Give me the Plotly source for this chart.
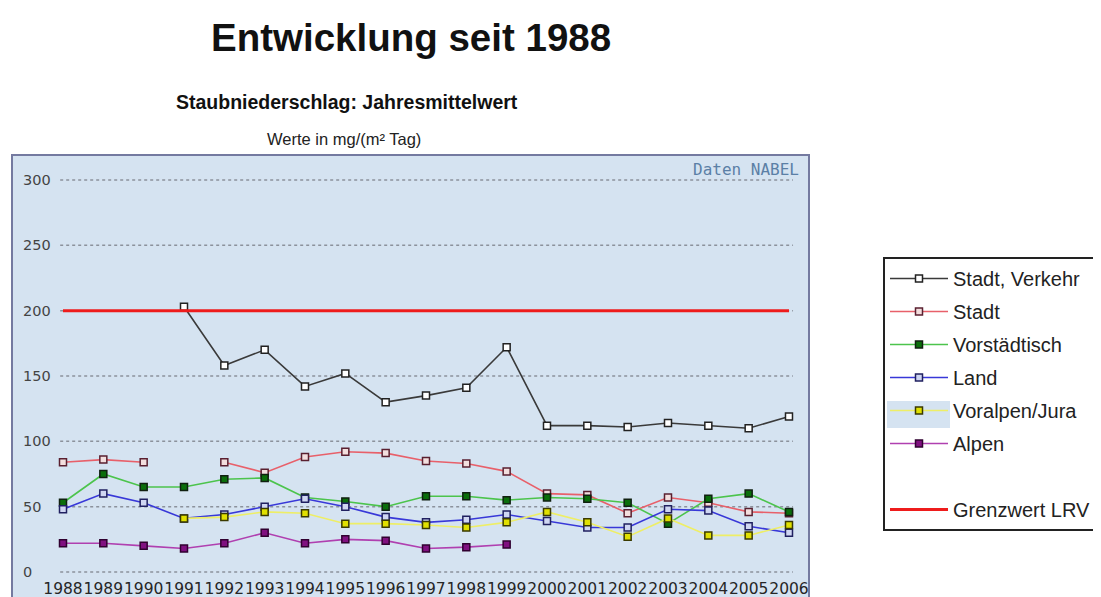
import plotly.graph_objects as go

years = list(range(1988, 2007))
year_labels = [str(y) for y in years]

stadt_verkehr = [None, None, None, 203, 158, 170, 142, 152, 130, 135, 141, 172, 112, 112, 111, 114, 112, 110, 119]
stadt = [84, 86, 84, None, 84, 76, 88, 92, 91, 85, 83, 77, 60, 59, 45, 57, 53, 46, 45]
vorstaedtisch = [53, 75, 65, 65, 71, 72, 57, 54, 50, 58, 58, 55, 57, 56, 53, 37, 56, 60, 46]
land = [48, 60, 53, 41, 44, 50, 56, 50, 42, 38, 40, 44, 39, 34, 34, 48, 47, 35, 30]
voralpen = [None, None, None, 41, 42, 46, 45, 37, 37, 36, 34, 38, 46, 38, 27, 41, 28, 28, 36]
alpen = [22, 22, 20, 18, 22, 30, 22, 25, 24, 18, 19, 21, None, None, None, None, None, None, None]
grenzwert = [200] * len(years)

y_ticks = [0, 50, 100, 150, 200, 250, 300]

series = [
    ("Stadt, Verkehr", stadt_verkehr, "#3a3a3a", "#ffffff", "#222222"),
    ("Stadt", stadt, "#e8606a", "#f3dede", "#5a2030"),
    ("Vorstädtisch", vorstaedtisch, "#4cc44c", "#0b6e0b", "#102010"),
    ("Land", land, "#3838d8", "#cfd6f2", "#202060"),
    ("Voralpen/Jura", voralpen, "#eeee66", "#e0e000", "#3a3a00"),
    ("Alpen", alpen, "#b040b0", "#801080", "#300030"),
]

fig = go.Figure()
for i, (name, vals, lc, mf, mb) in enumerate(series):
    fig.add_trace(go.Scatter(
        x=years, y=vals, name=name, mode="lines+markers", legendgroup=f"g{i}",
        line=dict(color=lc, width=1.6),
        marker=dict(symbol="square", size=7, color=mf, line=dict(color=mb, width=1.5)),
        connectgaps=False,
    ))

fig.add_trace(go.Scatter(x=[None], y=[None], name=" ", mode="lines", legendgroup="gblank",
                         line=dict(color="rgba(0,0,0,0)"), hoverinfo="skip"))
fig.add_trace(go.Scatter(x=years, y=grenzwert, name="Grenzwert LRV", mode="lines", legendgroup="glrv",
                         line=dict(color="#ee1c1c", width=3)))

# figure pixel coordinates (page body adds an 8px offset)
L, R, T, B = 4, 801, 147, 573
W, H = 1101, 597
pw, ph = R - L, B - T

def px_x(p):
    return (p - L) / pw

def px_y(p):
    return (B - p) / ph

shapes = []
shapes.append(dict(type="rect", xref="paper", yref="paper", x0=0, x1=1, y0=px_y(610), y1=1,
                   fillcolor="#d5e3f1", line=dict(color="#747aa0", width=2), layer="below"))
for v in y_ticks:
    shapes.append(dict(type="line", xref="x", yref="y", x0=1987.93, x1=2006.1, y0=v, y1=v,
                       line=dict(color="#8c929c", width=1.5, dash="dot"), layer="below"))
shapes.append(dict(type="rect", xref="paper", yref="paper", x0=px_x(879), x1=px_x(942),
                   y0=px_y(420), y1=px_y(393), fillcolor="#d5e3f1", line=dict(width=0), layer="below"))

annotations = [
    dict(text="<b>Entwicklung seit 1988</b>", xref="paper", yref="paper", x=px_x(403), y=px_y(30),
         showarrow=False, xanchor="center", yanchor="middle",
         font=dict(family="Liberation Sans, Arial", size=38.5, color="#111111")),
    dict(text="<b>Staubniederschlag: Jahresmittelwert</b>", xref="paper", yref="paper", x=px_x(339), y=px_y(94),
         showarrow=False, xanchor="center", yanchor="middle",
         font=dict(family="Liberation Sans, Arial", size=19.5, color="#111111")),
    dict(text="Werte in mg/(m² Tag)", xref="paper", yref="paper", x=px_x(336), y=px_y(131),
         showarrow=False, xanchor="center", yanchor="middle",
         font=dict(family="Liberation Sans, Arial", size=16.5, color="#222222")),
    dict(text="Daten NABEL", xref="paper", yref="paper", x=px_x(793), y=px_y(162),
         showarrow=False, xanchor="right", yanchor="middle",
         font=dict(family="DejaVu Sans Mono, monospace", size=16, color="#5b7fa6")),
]

fig.update_layout(
    width=W, height=H,
    margin=dict(l=L, r=W - R, t=T, b=H - B, pad=0, autoexpand=False),
    paper_bgcolor="white",
    plot_bgcolor="rgba(0,0,0,0)",
    shapes=shapes,
    annotations=annotations,
    showlegend=True,
    legend=dict(
        xref="container", yref="container",
        x=875 / W, y=1 - 249 / H, xanchor="left", yanchor="top",
        bgcolor="rgba(0,0,0,0)", bordercolor="#222222", borderwidth=2,
        font=dict(family="Liberation Sans, Arial", size=20, color="#222222"),
        itemwidth=58, tracegroupgap=4,
    ),
    xaxis=dict(
        range=[1986.7355, 2006.496], tickmode="array", tickvals=years, ticktext=year_labels,
        tickangle=0, automargin=False, ticklabelstandoff=-4,
        showgrid=False, zeroline=False, showline=False, ticks="",
        tickfont=dict(family="DejaVu Sans", size=15.5, color="#262626"),
        fixedrange=True,
    ),
    yaxis=dict(
        range=[-6.89, 319.13], tickmode="array", tickvals=y_ticks, automargin=False,
        showgrid=False, zeroline=False, showline=False, ticks="",
        ticklabelposition="inside", ticklabelstandoff=8,
        tickfont=dict(family="DejaVu Sans", size=14.5, color="#444444"),
        fixedrange=True,
    ),
    hovermode=False,
)

fig.write_html("out.html")
